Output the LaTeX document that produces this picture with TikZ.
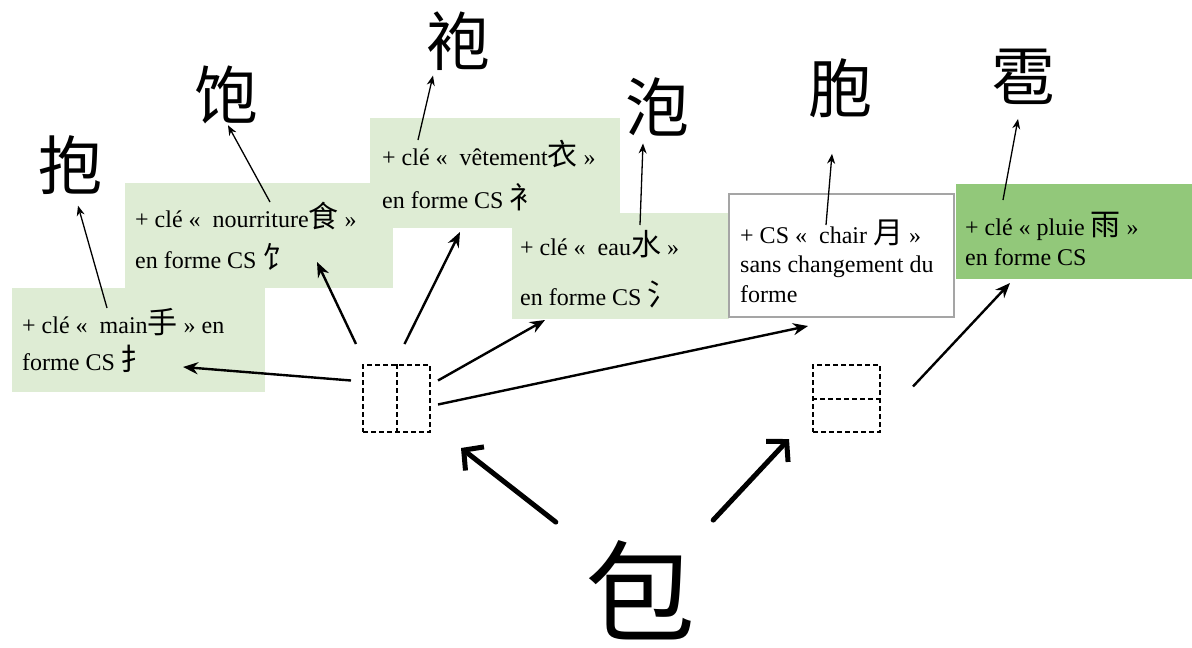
\documentclass[tikz,border=0pt]{standalone}
\usepackage{fontspec}
\setmainfont{Liberation Serif}
\newfontfamily\cjk{Noto Sans CJK SC}
\usetikzlibrary{arrows.meta}
\definecolor{paleleaf}{RGB}{222,236,212}
\definecolor{deepleaf}{RGB}{146,200,122}
\definecolor{frame}{RGB}{165,165,165}
\newcommand{\zi}[1]{{\cjk\fontsize{30}{30}\selectfont #1}}
\tikzset{
  line/.style={anchor=base west, inner sep=0pt, font=\fontsize{24}{28}\selectfont},
  bigchar/.style={inner sep=0pt, font=\cjk\fontsize{64}{64}\selectfont},
  slot/.style={draw, line width=2pt, dash pattern=on 5pt off 3pt, minimum width=67pt, minimum height=67pt, inner sep=0pt},
  slot line/.style={line width=2pt, dash pattern=on 5pt off 3pt},
  thin arrow/.style={-{Stealth[length=10pt,width=8pt]}, line width=1.3pt},
  mid arrow/.style={-{Stealth[length=15pt,width=12pt]}, line width=2.4pt},
  big arrow/.style={-{Straight Barb[length=14pt,width=30pt]}, line width=5pt, line cap=round},
}
\begin{document}
\begin{tikzpicture}[x=1pt, y=-1pt]
  \useasboundingbox (0,0) rectangle (1192,648);

  % boxes
  \fill[paleleaf] (12,288) rectangle (265,392);
  \fill[paleleaf] (125,183) rectangle (393,288);
  \fill[paleleaf] (370,118) rectangle (620,228);
  \fill[paleleaf] (512,213) rectangle (729,319);
  \filldraw[fill=white, draw=frame, line width=1.2pt] (729,194) rectangle (954,317);
  \fill[deepleaf] (956,184) rectangle (1192,279);

  % texts in the boxes
  \node[line] (handA) at (22,333) {+ clé «~~main\zi{手} » en};
  \node[line] (handB) at (22,370) {forme CS \zi{扌}};
  \node[line] (foodA) at (135,227) {+ clé «~~nourriture\zi{食} »};
  \node[line] (foodB) at (135,268) {en forme CS \zi{饣}};
  \node[line] (robeA) at (382,165) {+ clé «~~vêtement\zi{衣} »};
  \node[line] (robeB) at (382,208) {en forme CS \zi{衤}};
  \node[line] (waterA) at (520,255) {+ clé «~~eau\zi{水} »};
  \node[line] (waterB) at (520,305) {en forme CS \zi{氵}};
  \node[line] (fleshA) at (740,243) {+ CS «~~chair \zi{月} »};
  \node[line] (fleshB) at (740,272) {sans changement du};
  \node[line] (fleshC) at (740,302) {forme};
  \node[line] (rainA) at (965,235) {+ clé « pluie \zi{雨} »};
  \node[line] (rainB) at (965,265) {en forme CS};

  % derived characters
  \node[bigchar] (hug) at (70,165) {抱};
  \node[bigchar] (full) at (226,95) {饱};
  \node[bigchar] (robe) at (458,41) {袍};
  \node[bigchar] (foam) at (657,107) {泡};
  \node[bigchar] (cell) at (840,88) {胞};
  \node[bigchar] (hail) at (1023,77) {雹};
  \node[inner sep=0pt, font=\cjk\fontsize{110}{110}\selectfont] (bag) at (640,590) {包};

  % slots
  \node[slot] (dL) at (396.5,398.5) {};
  \draw[slot line] (dL.north) -- (dL.south);
  \node[slot] (dR) at (846.5,398.5) {};
  \draw[slot line] (dR.west) -- (dR.east);

  % free ends
  \coordinate (handUp) at (107,308);
  \coordinate (fullUp) at (270,202);
  \coordinate (robeUp) at (418,140);
  \coordinate (waterUp) at (640,225);
  \coordinate (fleshUp) at (826,225);
  \coordinate (rainUp) at (1003,200);
  \coordinate (handIn) at (183,367);
  \coordinate (foodIn) at (317,262);
  \coordinate (robeIn) at (460,232);
  \coordinate (waterIn) at (545,320);
  \coordinate (fleshIn) at (808,326);
  \coordinate (rainIn) at (1010,283);

  % thin arrows
  \draw[thin arrow] (handUp) -- ([xshift=8pt,yshift=-11pt]hug.south);
  \draw[thin arrow] (fullUp) -- ([xshift=2pt,yshift=-1pt]full.south);
  \draw[thin arrow] (robeUp) -- ([xshift=-25pt,yshift=-5pt]robe.south);
  \draw[thin arrow] (waterUp) -- ([xshift=-14pt,yshift=-7pt]foam.south);
  \draw[thin arrow] (fleshUp) -- ([xshift=-8pt,yshift=-36pt]cell.south);
  \draw[thin arrow] (rainUp) -- ([xshift=-5pt,yshift=-14pt]hail.south);

  % arrows from the slots
  \draw[mid arrow] ([xshift=-11pt,yshift=18pt]dL.west) -- (handIn);
  \draw[mid arrow] ([xshift=-6pt,yshift=20pt]dL.north west) -- (foodIn);
  \draw[mid arrow] ([xshift=8pt,yshift=20pt]dL.north) -- (robeIn);
  \draw[mid arrow] ([xshift=7pt,yshift=18pt]dL.east) -- (waterIn);
  \draw[mid arrow] ([xshift=7pt,yshift=-6pt]dL.east) -- (fleshIn);
  \draw[mid arrow] ([xshift=32pt,yshift=12pt]dR.east) -- (rainIn);

  % bao
  \draw[big arrow] ([xshift=-29pt,yshift=18pt]bag.north west) -- ([xshift=30pt,yshift=-15pt]dL.south east);
  \draw[big arrow] ([xshift=18pt,yshift=20pt]bag.north east) -- ([xshift=-23pt,yshift=-6pt]dR.south west);
\end{tikzpicture}
\end{document}
